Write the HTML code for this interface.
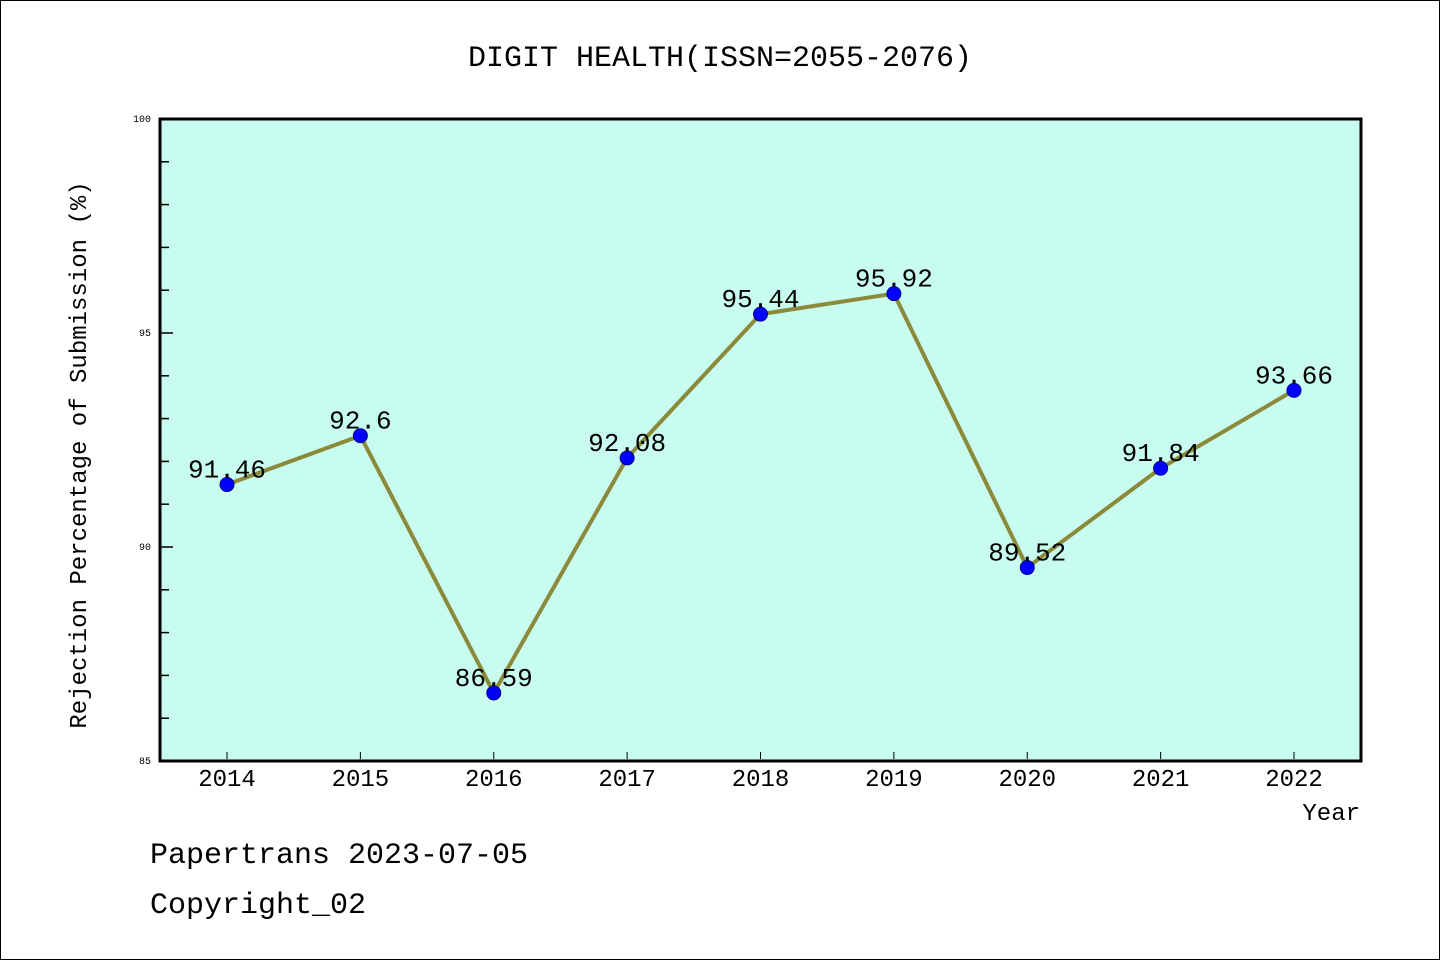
<!DOCTYPE html>
<html><head><meta charset="utf-8"><style>
body{margin:0;background:#fff;}
svg text{font-family:"Liberation Mono","DejaVu Sans Mono",monospace;}
</style></head><body>
<svg id="c" width="1440" height="960" xmlns="http://www.w3.org/2000/svg">
<rect x="0.5" y="0.5" width="1439" height="959" fill="#fff" stroke="#000"/>
<text x="720" y="66" font-size="30" text-anchor="middle">DIGIT HEALTH(ISSN=2055-2076)</text>
<rect x="160" y="119" width="1201" height="642" fill="#c8fcee" stroke="#000" stroke-width="3"/>
<text transform="translate(86,455) rotate(-90)" font-size="24" text-anchor="middle">Rejection Percentage of Submission (%)</text>
<text x="1360" y="820" font-size="24" text-anchor="end">Year</text>
<text x="150" y="863" font-size="30">Papertrans 2023-07-05</text>
<text x="150" y="913" font-size="30">Copyright_02</text>
<g id="g"></g>
</svg>
<script>
const years=["2014","2015","2016","2017","2018","2019","2020","2021","2022"];
const values=[91.46,92.6,86.59,92.08,95.44,95.92,89.52,91.84,93.66];
const valueLabels=["91.46","92.6","86.59","92.08","95.44","95.92","89.52","91.84","93.66"];
const yTicks=[85,90,95,100];
const NS="http://www.w3.org/2000/svg";
const g=document.getElementById('g');
const yMin=85,yMax=100,plotTop=119,plotBot=761;
const y=v=>plotBot-(v-yMin)/(yMax-yMin)*(plotBot-plotTop);
const x=i=>227+i*(1294-227)/(years.length-1);
function mk(t,a){const e=document.createElementNS(NS,t);for(const k in a)e.setAttribute(k,a[k]);g.appendChild(e);return e;}
for(let v=yMin;v<=yMax;v++){
  const major=yTicks.includes(v);
  const l=mk('line',{x1:161,x2:major?173:169,y1:y(v),y2:y(v),stroke:'#000','stroke-width':1.5});
  
  
}
yTicks.forEach(v=>{
  const t=mk('text',{x:151,y:y(v)+3,'font-size':10,'text-anchor':'end'});t.textContent=v;
  
  
});
years.forEach((yr,i)=>{
  const l=mk('line',{x1:x(i),x2:x(i),y1:759,y2:752,stroke:'#000','stroke-width':1});
  
  
  const t=mk('text',{x:x(i),y:786,'font-size':24,'text-anchor':'middle'});t.textContent=yr;
  
  
});
const line=mk('polyline',{points:values.map((v,i)=>x(i)+','+y(v)).join(' '),fill:'none',stroke:'#8b8a3a','stroke-width':4});


values.forEach((v,i)=>{
  const c=mk('circle',{cx:x(i),cy:y(v),r:7,fill:'#0000ff',stroke:'#00008b','stroke-width':1});
  
  
});
values.forEach((v,i)=>{
  const t=mk('text',{x:x(i),y:y(v)-7,'font-size':26,'text-anchor':'middle'});t.textContent=valueLabels[i];
  
  
});
</script>
</body></html>
